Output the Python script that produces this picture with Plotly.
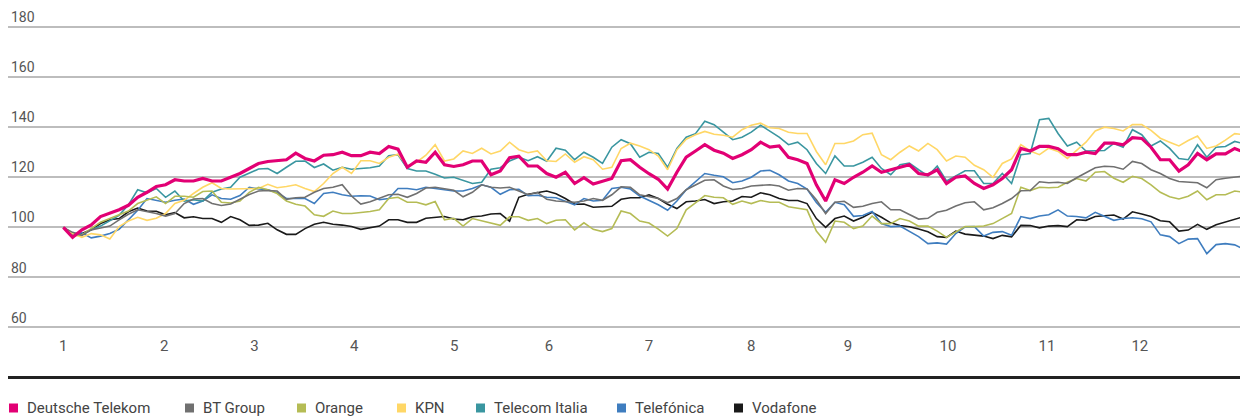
import plotly.graph_objects as go

# trading-day index (every second day)
days = list(range(0, 256, 2))
month_days = [0, 21.7, 41.1, 62.6, 84.1, 104.5, 126, 148, 168.8, 190.3, 211.6, 231.6]
month_labels = ["1", "2", "3", "4", "5", "6", "7", "8", "9", "10", "11", "12"]
y_ticks = [60, 80, 100, 120, 140, 160, 180]

deutsche_telekom = [
    100, 96, 99, 101, 104.3, 105.5, 107, 108.8, 112, 114,
    116.3, 117, 119, 118.5, 118.5, 119.5, 118.5, 118.5, 120, 121.5,
    123.5, 125.5, 126.3, 126.6, 127, 129.6, 127.5, 126.5, 128.8, 129,
    130, 128.6, 128.6, 130, 129.5, 132.3, 131.2, 124, 126.5, 126,
    130, 125, 124.3, 125, 126.5, 126.5, 121, 122.5, 127.8, 128.4,
    124.5, 124.5, 121.5, 120, 122, 117.5, 119.8, 117.3, 118.5, 119.5,
    126.6, 127, 124, 121.4, 119.2, 115.3, 122, 128, 130.5, 133,
    130.8, 129.6, 127.5, 129, 131, 134, 132, 132.5, 128, 127,
    125.5, 117, 110.5, 119, 117.5, 120, 122, 124.5, 122, 123,
    124.3, 125, 121.5, 121, 123, 117.5, 120, 120.5, 117.5, 115.5,
    117, 119.5, 123, 131.5, 130.5, 132.3, 132.3, 131.4, 129, 129,
    130, 129.5, 133.6, 133.6, 133, 135.8, 135.5, 132, 127, 127,
    122.5, 125, 129.5, 127, 129.3, 129.3, 131.5, 130,
]

bt_group = [
    100, 98, 96.8, 99, 99.7, 100.5, 103, 105.2, 107, 106.4,
    105.5, 104.5, 105.5, 109.5, 111.3, 111.5, 109.5, 108.7, 109.3, 111.2,
    113.1, 114.5, 114.7, 114.5, 111.2, 111.8, 112, 114, 115.5, 116,
    117, 112.5, 109.3, 110.2, 111.5, 113, 113.2, 112, 113.5, 115.7,
    116, 115.5, 114.8, 112.2, 114, 117, 116, 115.7, 116, 114.5,
    113, 114, 111.2, 110.5, 110.4, 110, 110.5, 111.5, 110.8, 113,
    116.2, 116, 113, 112.3, 111.5, 109.8, 111.5, 115, 116.8, 118.8,
    119, 116.5, 115.1, 115.5, 116.5, 116.8, 117, 116.5, 114.8, 115.5,
    115.3, 111, 105.5, 110, 110.4, 108, 108.4, 109.5, 110.2, 107,
    107, 105.1, 103.3, 103.6, 106, 106.8, 108.5, 109.8, 110.2, 107,
    107.8, 109.5, 111.5, 114.6, 114.7, 118.2, 117.8, 118, 117.5, 119.8,
    121.8, 123.8, 124.4, 124.2, 123.2, 126.3, 125.5, 123, 121.5, 119.5,
    118.3, 118.2, 117.8, 115.8, 119, 119.6, 120.2, 120.5,
]

orange = [
    100, 96.5, 97, 99.5, 102, 103.5, 105, 106.5, 109.5, 111,
    112.2, 109.5, 112.4, 112.4, 112, 114.3, 114.5, 110, 109.7, 110.5,
    114, 116, 115, 113.5, 110.5, 109.2, 108.5, 105, 104.4, 106.5,
    105.5, 105.5, 105.8, 106.3, 107, 111.5, 112, 110, 110, 109,
    110.3, 103, 103.6, 100.5, 103.5, 102.5, 101.5, 100.8, 104.2, 104.2,
    102.8, 103.5, 101.5, 102.8, 103, 99, 101.8, 99.2, 98.3, 99.5,
    106.5, 105.5, 102.5, 101.7, 99.3, 96.5, 99.5, 107, 109.8, 112.7,
    112, 111.8, 109.2, 110.5, 109.5, 110.7, 110, 110, 108.2, 107.5,
    107, 98.5, 94, 102.5, 102, 99.5, 100.5, 104.5, 101.5, 101.5,
    103.5, 102.5, 100.5, 100.5, 98.5, 96, 98, 100.3, 100.3, 100.5,
    101.5, 103.5, 105.5, 116, 114.7, 116, 115.8, 116, 118, 119.5,
    118.5, 122, 122.3, 119.6, 118, 120.4, 119.5, 117, 114, 112.2,
    111.3, 112.4, 114.5, 111, 113, 113, 114.5, 114,
]

kpn = [
    100, 97.5, 96, 97.5, 97, 95.3, 100.3, 102.5, 104, 102.8,
    103.6, 105.5, 109.5, 110.8, 113.5, 116, 117.8, 115.5, 115.3, 115.4,
    115.5, 115.5, 117.2, 115.8, 116.3, 117, 115.5, 114.3, 117.5, 121.5,
    124, 121.5, 126.6, 126.6, 125.5, 128, 129.2, 124.5, 126, 128.8,
    133, 126.5, 127.3, 130.5, 129.5, 131.6, 129.3, 130.5, 134, 131,
    129.8, 130.5, 126.6, 126.3, 129.3, 126, 128.2, 127, 123.2, 124,
    131.5, 133.6, 132.5, 131, 128.5, 123, 131, 135.2, 137, 138.3,
    137.2, 136.8, 136, 139, 140.8, 141.6, 139.8, 139.5, 138, 137.5,
    137.5, 130.3, 125, 133.5, 133.5, 134.5, 137, 137.6, 129, 127,
    130, 132.5, 130.5, 133.5, 131, 126.5, 128.5, 128, 124.8, 123,
    120, 125.5, 127.3, 133, 130.5, 129, 131.6, 130.3, 127.5, 130.7,
    134, 138.5, 140, 139.5, 138.5, 141, 141, 138.7, 135.6, 134,
    132.5, 134.7, 136.5, 131.5, 132.5, 134.8, 137.4, 137,
]

telecom_italia = [
    100, 97.5, 97, 99, 100.5, 102.5, 104.8, 109, 115, 113.8,
    115.5, 112, 114.5, 110.5, 111, 110.5, 114, 115.3, 116, 120,
    121.5, 123.3, 123.5, 121.5, 124, 126.4, 126.5, 123.9, 125.3, 122.8,
    124, 123.2, 123.5, 123.8, 124.5, 128.6, 129, 123.5, 122.5, 122.5,
    121.2, 119.7, 120, 118.8, 117.5, 118, 123.2, 123.8, 126.5, 128,
    126.6, 128.2, 126.4, 131.6, 130.8, 127, 130, 128, 125.5, 132,
    135, 133.4, 128, 130, 129.5, 124, 131.5, 136, 137.4, 142.4,
    141, 138, 135, 136, 138, 140.8, 138.5, 136, 133, 134,
    131, 125.5, 121.5, 128.5, 124.5, 124.5, 126, 128, 123.5, 121,
    125, 125.7, 123, 120.5, 124.5, 118.5, 120.5, 122.6, 122.6, 117.5,
    117.5, 121.5, 117.5, 129, 129.5, 143, 143.5, 137.5, 132.5, 134,
    130.5, 130.5, 130.7, 133.5, 132, 139, 137, 132.5, 134.5, 131.5,
    127.5, 127, 133, 128, 132, 132.3, 134.3, 133.4,
]

telefonica = [
    100, 97, 97.8, 95.8, 96.5, 97.5, 99.2, 103.1, 106.8, 111.5,
    110.8, 110, 110.8, 111.3, 109.2, 110.5, 113, 111.5, 111.2, 112.7,
    116, 115.3, 115, 113.8, 111.5, 111.5, 111.5, 109.5, 113.5, 114,
    113, 112.4, 112.6, 112.5, 111, 111.5, 115.5, 115.5, 115, 116,
    115.5, 115, 114.5, 114.5, 115.5, 117, 116, 113.2, 115, 115.2,
    112.6, 112.8, 112, 111.8, 110.5, 109, 111.5, 110.5, 110.8, 115.5,
    116, 115.3, 112.5, 110.8, 109, 106.8, 110.5, 115, 118.3, 121.5,
    120.8, 120.2, 117.8, 118.5, 120, 122.5, 122.8, 121, 118.5, 117.5,
    115.3, 109.9, 106, 110, 109, 104.4, 104.7, 106.3, 101.5, 100.3,
    100.5, 98.3, 96.3, 93.5, 93.8, 93.3, 97.5, 100.2, 100.3, 96.5,
    98, 98.3, 96.8, 104.3, 103.5, 104.5, 105, 107, 104.5, 104.3,
    103.8, 106, 104.3, 102.8, 103.5, 103.8, 103.4, 102.2, 97, 96.3,
    93.5, 95.3, 95.5, 89.5, 93.1, 93.5, 93, 91.2,
]

vodafone = [
    100, 97.5, 97.5, 99, 101.5, 103, 103.5, 106.2, 107.7, 106.5,
    106.4, 105, 105.9, 103.8, 104.2, 103.5, 103.5, 102, 104.3, 103,
    100.8, 100.9, 101.6, 99, 97.2, 97.2, 99.5, 101.2, 102, 101.2,
    100.9, 100.3, 99.2, 99.8, 100.5, 103, 103, 102, 102, 103.6,
    104, 104.3, 103.3, 103, 104.2, 104.5, 105.3, 105.5, 102.5, 112,
    113.2, 114, 114.5, 113.4, 111.5, 109.2, 109.3, 108, 108.2, 108.4,
    111.2, 111.8, 111.8, 113, 111.5, 109.2, 107.5, 110.2, 110.5, 111.1,
    109.5, 110.2, 110.5, 112.3, 112, 113.8, 113, 111.5, 110.7, 110.7,
    109.5, 103.5, 100, 103.5, 104.5, 102.5, 104, 106, 104, 101.8,
    100.7, 100.2, 99.3, 98.2, 96.3, 96, 98.5, 97.3, 96.9, 96.5,
    95.5, 96.8, 96.2, 100.8, 100.7, 99.8, 100.5, 100.7, 100.3, 103,
    102.8, 104.3, 104.6, 104.9, 103.3, 106.2, 105.3, 104.3, 102.6, 102.2,
    98.5, 98.9, 101.2, 99.2, 101, 102, 103, 104.3,
]

names = ["Deutsche Telekom", "BT Group", "Orange", "KPN",
         "Telecom Italia", "Telefónica", "Vodafone"]
values = [deutsche_telekom, bt_group, orange, kpn,
          telecom_italia, telefonica, vodafone]
colors = ["#E20074", "#707070", "#B5BC55", "#FFD766",
          "#3A96A0", "#3F7DBF", "#1A1A1A"]

fig = go.Figure()
draw_order = [6, 5, 4, 3, 2, 1, 0]
for i in draw_order:
    fig.add_trace(go.Scatter(
        x=days, y=values[i], mode="lines", name=names[i],
        line=dict(color=colors[i], width=3.2 if i == 0 else 1.6),
        showlegend=False, hoverinfo="skip",
    ))

# legend drawn under the chart (positions in page pixels)
W, L = 1236.0, 8.0
plot_bottom, plot_h = 335.0, 323.0
def px_x(p):
    return (p - L) / W
def px_y(p):
    return (plot_bottom - p) / plot_h

legend_text_x = [25, 201, 313, 413, 492, 633, 750]
annotations = []
shapes = [dict(type="line", xref="paper", yref="paper",
               x0=px_x(5), x1=1, y0=px_y(377.5), y1=px_y(377.5),
               line=dict(color="#222222", width=3))]
for name, col, tx in zip(names, colors, legend_text_x):
    shapes.append(dict(type="rect", xref="paper", yref="paper",
                       x0=px_x(tx - 16), x1=px_x(tx - 7),
                       y0=px_y(412.5), y1=px_y(403.5),
                       fillcolor=col, line=dict(width=0)))
    annotations.append(dict(text=name, xref="paper", yref="paper",
                            x=px_x(tx), y=px_y(408), xanchor="left",
                            yanchor="middle", showarrow=False,
                            font=dict(family="Roboto", size=15, color="#444444")))

# page body has an 8px margin, so the figure is 8px smaller than the window
fig.update_layout(
    width=1240, height=409,
    margin=dict(l=0, r=4, t=4, b=82, autoexpand=False),
    paper_bgcolor="white", plot_bgcolor="white",
    showlegend=False,
    font=dict(family="Roboto", color="#555555"),
    shapes=shapes, annotations=annotations,
    xaxis=dict(range=[-11.9, 254], tickvals=month_days, ticktext=month_labels,
               showgrid=False, zeroline=False, showline=False, ticks="",
               automargin=False,
               tickfont=dict(size=15, color="#555555")),
    yaxis=dict(range=[57, 186], tickvals=y_ticks,
               ticklabelposition="inside top", ticklabeloverflow="allow",
               showgrid=True, gridcolor="#BDBDBD", gridwidth=1.5,
               zeroline=False, showline=False, ticks="", automargin=False,
               tickfont=dict(size=14, color="#555555")),
)

fig.write_html("out.html")
